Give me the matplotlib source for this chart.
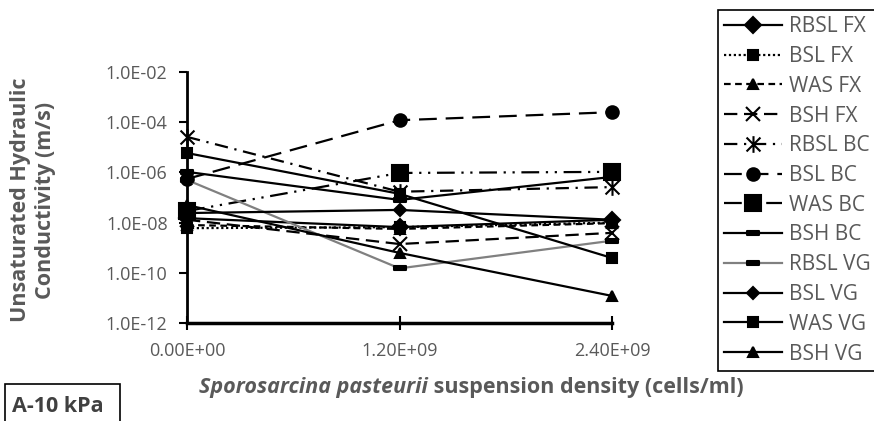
import matplotlib
matplotlib.use("Agg")
import matplotlib.pyplot as plt
from matplotlib.path import Path
from matplotlib.patches import Rectangle

# cell density of the bacterial suspension (cells/ml)
density = [0.0, 1.2e9, 2.4e9]
x_ticklabels = ["0.00E+00", "1.20E+09", "2.40E+09"]
y_ticks = [1e-12, 1e-10, 1e-8, 1e-6, 1e-4, 1e-2]
y_ticklabels = ["1.0E-12", "1.0E-10", "1.0E-08", "1.0E-06", "1.0E-04", "1.0E-02"]

# unsaturated hydraulic conductivity at 10 kPa suction (m/s)
rbsl_fx = [1.5e-8, 6.6e-9, 1.3e-8]
bsl_fx = [6.0e-9, 6.6e-9, 1.0e-8]
was_fx = [8.0e-9, 5.6e-9, 9.5e-9]
bsh_fx = [1.3e-8, 1.4e-9, 3.9e-9]
rbsl_bc = [2.6e-5, 1.7e-7, 2.6e-7]
bsl_bc = [5.5e-7, 1.2e-4, 2.5e-4]
was_bc = [2.9e-8, 9.5e-7, 1.05e-6]
bsh_bc = [1.05e-6, 8.0e-8, 6.6e-7]
rbsl_vg = [5.0e-7, 1.5e-10, 1.9e-9]
bsl_vg = [2.4e-8, 3.2e-8, 1.3e-8]
was_vg = [5.9e-6, 1.4e-7, 3.9e-10]
bsh_vg = [5.0e-8, 6.2e-10, 1.2e-11]

plt.rcParams['font.family'] = ['Open Sans', 'DejaVu Sans']
grey = '#595959'

# excel style markers: asterisk and short dash
star = Path([(-1, -1), (1, 1), (-1, 1), (1, -1), (0, -1.2), (0, 1.2)],
            [Path.MOVETO, Path.LINETO, Path.MOVETO, Path.LINETO, Path.MOVETO, Path.LINETO])
dash = Path([(-1, -0.4), (1, -0.4), (1, 0.4), (-1, 0.4), (-1, -0.4)],
            [Path.MOVETO, Path.LINETO, Path.LINETO, Path.LINETO, Path.CLOSEPOLY])

series = [
    ("RBSL FX", rbsl_fx, '-', 'black', 'D', 8),
    ("BSL FX", bsl_fx, (0, (1, 1.2)), 'black', 's', 7),
    ("WAS FX", was_fx, (0, (3, 2)), 'black', '^', 7),
    ("BSH FX", bsh_fx, (0, (6, 3)), 'black', 'x', 10),
    ("RBSL BC", rbsl_bc, (0, (6, 3, 1, 3)), 'black', star, 12),
    ("BSL BC", bsl_bc, (0, (8, 4)), 'black', 'o', 9),
    ("WAS BC", was_bc, (0, (8, 3, 1, 3, 1, 3)), 'black', 's', 12),
    ("BSH BC", bsh_bc, '-', 'black', dash, 8),
    ("RBSL VG", rbsl_vg, '-', '#808080', dash, 8),
    ("BSL VG", bsl_vg, '-', 'black', 'D', 6),
    ("WAS VG", was_vg, '-', 'black', 's', 7),
    ("BSH VG", bsh_vg, '-', 'black', '^', 7),
]

fig = plt.figure(figsize=(8.74, 4.21), dpi=100)
ax = fig.add_axes([187 / 874, 1 - 323 / 421, (612 - 187) / 874, (323 - 72) / 421])

handles = []
for name, vals, ls, col, mk, ms in series:
    line, = ax.plot(density, vals, linestyle=ls, color=col, lw=1.6,
                    marker=mk, markersize=ms, markerfacecolor='black',
                    markeredgecolor='black', markeredgewidth=1.5, clip_on=False)
    handles.append(line)

ax.set_yscale('log')
ax.set_xlim(0, 2.4e9)
ax.set_ylim(1e-12, 1e-2)
ax.set_xticks(density)
ax.set_xticklabels(x_ticklabels)
ax.set_yticks(y_ticks)
ax.set_yticklabels(y_ticklabels)
ax.minorticks_off()
ax.tick_params(axis='y', direction='out', length=6, width=1.5, pad=8,
               labelsize=13, labelcolor=grey)
ax.tick_params(axis='x', direction='inout', length=10, width=1.5, pad=9,
               labelsize=13, labelcolor=grey)
for side in ['top', 'right']:
    ax.spines[side].set_visible(False)
ax.spines['left'].set_linewidth(2)
ax.spines['bottom'].set_linewidth(2.5)

fig.text(33 / 874, 1 - 200 / 421, "Unsaturated Hydraulic\nConductivity (m/s)",
         rotation=90, ha='center', va='center', fontsize=15.5, fontweight='bold',
         color=grey, linespacing=1.2)

# x axis title, italic species name followed by plain part
t1 = fig.text(0, 1 - 387 / 421, "Sporosarcina pasteurii", fontsize=15.5,
              fontweight='bold', style='italic', color=grey, va='center')
t2 = fig.text(0, 1 - 387 / 421, " suspension density (cells/ml)", fontsize=15.5,
              fontweight='bold', color=grey, va='center')
fig.canvas.draw()
r = fig.canvas.get_renderer()
w1 = t1.get_window_extent(r).width
w2 = t2.get_window_extent(r).width
x0 = 471 - (w1 + w2) / 2
t1.set_x(x0 / 874)
t2.set_x((x0 + w1) / 874)

leg = fig.legend(handles, [s[0] for s in series], loc='upper left',
                 bbox_to_anchor=(718 / 874, 1 - 10 / 421), borderaxespad=0,
                 fontsize=15, handlelength=2.75, handletextpad=0.35,
                 labelspacing=0.42, borderpad=0.3, fancybox=False,
                 framealpha=1, edgecolor='black')
leg.get_frame().set_linewidth(1.2)
for txt in leg.get_texts():
    txt.set_color(grey)

fig.patches.append(Rectangle((5 / 874, -0.05), 115 / 874, (421 - 384) / 421 + 0.05,
                             transform=fig.transFigure, fill=False,
                             edgecolor='black', lw=1.2))
fig.text(12 / 874, 1 - 407 / 421, "A-10 kPa", fontsize=15.5, fontweight='bold',
         color='#404040', va='center')

fig.savefig("out.png", dpi=100)
